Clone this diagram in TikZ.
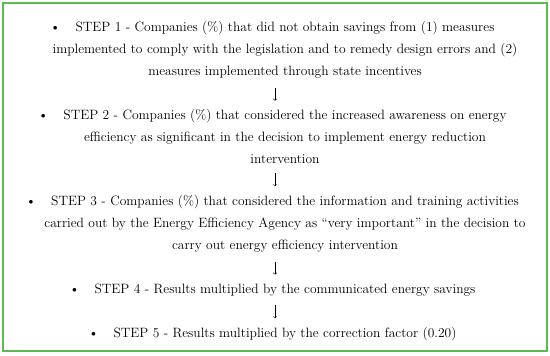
\documentclass[tikz,border=0pt]{standalone}
\usepackage{tikz}
\usetikzlibrary{positioning}
\definecolor{framegreen}{RGB}{96,186,84}
\tikzset{
stepbox/.style={
  inner sep=0pt,
  align=center,
  font=\fontsize{13.5}{22}\selectfont
  },
flow/.style={->, line width=0.5pt, shorten >=9pt, shorten <=9pt}
}
\newcommand{\stepbullet}{\llap{\textbullet\hspace{15pt}}}
\begin{document}
\begin{tikzpicture}[x=1pt, y=-1pt, node distance=31pt]
\useasboundingbox (0,0) rectangle (550,356);
\draw[framegreen, line width=2pt] (3,3) rectangle (547,351);
\coordinate (axis) at (275,0);
\node[stepbox] (s1) at (285,50) {\stepbullet STEP 1 - Companies (\%) that did not obtain savings from (1) measures\\
  implemented to comply with the legislation and to remedy design errors and (2)\\
  measures implemented through state incentives};
\node[stepbox, below=of s1] (s2) {\stepbullet STEP 2 - Companies (\%) that considered the increased awareness on energy\\
  efficiency as significant in the decision to implement energy reduction\\
  intervention};
\node[stepbox, below=of s2] (s3) {\stepbullet STEP 3 - Companies (\%) that considered the information and training activities\\
  carried out by the Energy Efficiency Agency as ``very important'' in the decision to\\
  carry out energy efficiency intervention};
\node[stepbox, below=of s3] (s4) {\stepbullet STEP 4 - Results multiplied by the communicated energy savings};
\node[stepbox, below=of s4] (s5) {\stepbullet STEP 5 - Results multiplied by the correction factor (0.20)};
\draw[flow] (s1.south -| axis) -- (s2.north -| axis);
\draw[flow] (s2.south -| axis) -- (s3.north -| axis);
\draw[flow] (s3.south -| axis) -- (s4.north -| axis);
\draw[flow] (s4.south -| axis) -- (s5.north -| axis);
\end{tikzpicture}
\end{document}
